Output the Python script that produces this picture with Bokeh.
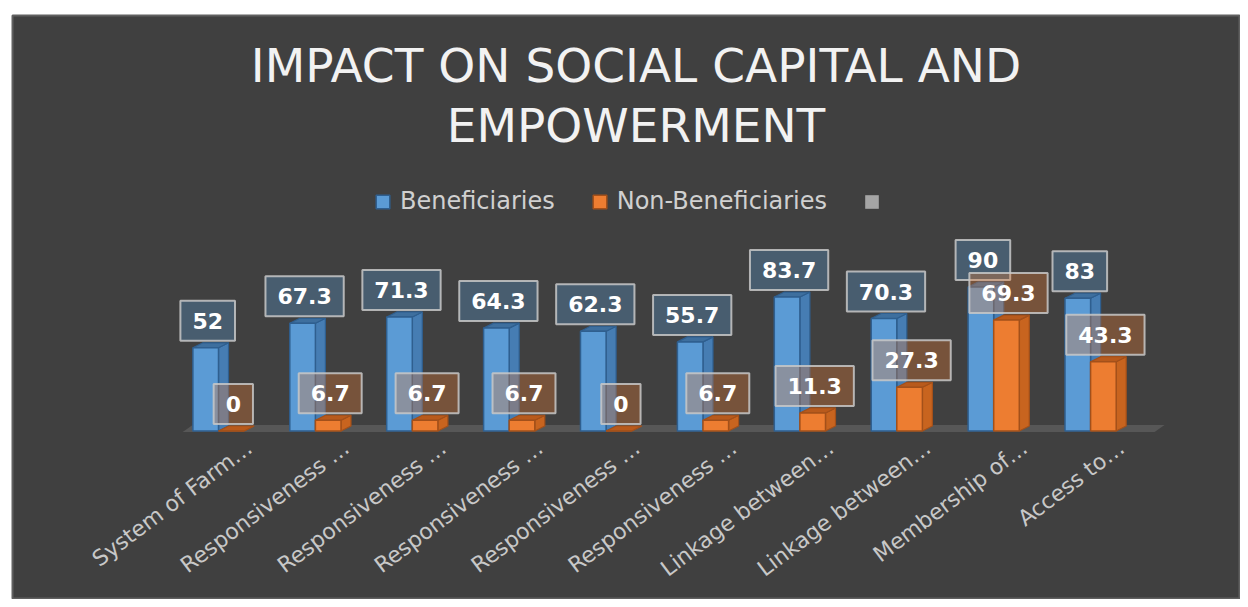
import math
from bokeh.plotting import figure
from bokeh.models import Range1d, Label, Legend, LegendItem
from bokeh.core.properties import value
from bokeh.embed import file_html
from bokeh.resources import INLINE

# ---------------- data ----------------
categories = ["System of Farm…", "Responsiveness …", "Responsiveness …", "Responsiveness …",
              "Responsiveness …", "Responsiveness …", "Linkage between…", "Linkage between…",
              "Membership of…", "Access to…"]
beneficiaries = [52, 67.3, 71.3, 64.3, 62.3, 55.7, 83.7, 70.3, 90, 83]
non_beneficiaries = [0, 6.7, 6.7, 6.7, 0, 6.7, 11.3, 27.3, 69.3, 43.3]
series_names = ["Beneficiaries", "Non-Beneficiaries", " "]
title_lines = ["IMPACT ON SOCIAL CAPITAL AND", "EMPOWERMENT"]

# ---------------- layout constants ----------------
ML, MT = 12, 15         # white space left / top of the panel
FW, FH = 1228, 584      # frame (dark panel) size
W, H = FW + ML, FH + MT
PX_X = 96.9      # pixels per category step
PX_Y = 1.6       # pixels per value unit
X0 = 206         # pixel position of first category inside panel
Y0 = 168.5       # pixels from panel bottom to base line
BW = 25.6 / PX_X # bar front width (data units)
DX = 10 / PX_X   # 3D depth offset x
DY = 5 / PX_Y    # 3D depth offset y

FONT = "DejaVu Sans"
BG = "#404040"

p = figure(width=W, height=H, output_backend="svg", toolbar_location=None,
           x_range=Range1d(-X0 / PX_X, (FW - X0) / PX_X),
           y_range=Range1d(-Y0 / PX_Y, (FH - Y0) / PX_Y),
           x_axis_location=None, y_axis_location=None,
           min_border_left=ML, min_border_top=MT,
           min_border_right=0, min_border_bottom=0,
           background_fill_color=BG, border_fill_color="white")
p.grid.visible = False
p.outline_line_color = "#606060"
p.outline_line_width = 2

n = len(categories)

# floor
fx0 = -0.37
fx1 = (n - 1) + 0.66
p.patch([fx0, fx1, fx1 + DX, fx0 + DX], [-0.6, -0.6, DY + 0.6, DY + 0.6],
        fill_color="#575757", line_color=None)


def bar_polys(x_left, vals):
    fronts_x, fronts_y, sides_x, sides_y, tops_x, tops_y = [], [], [], [], [], []
    for xl, v in zip(x_left, vals):
        xr = xl + BW
        fronts_x.append([xl, xr, xr, xl]); fronts_y.append([0, 0, v, v])
        sides_x.append([xr, xr + DX, xr + DX, xr]); sides_y.append([0, DY, v + DY, v])
        tops_x.append([xl, xr, xr + DX, xl + DX]); tops_y.append([v, v, v + DY, v + DY])
    return fronts_x, fronts_y, sides_x, sides_y, tops_x, tops_y


idx = list(range(n))
blue_left = [i - BW for i in idx]
orange_left = [i for i in idx]

renderers = []
for lefts, vals, front_c, side_c, top_c, edge_c in [
    (blue_left, beneficiaries, "#5B9BD5", "#467DB3", "#3E6F9E", "#2F5F8F"),
    (orange_left, non_beneficiaries, "#ED7D31", "#C8641F", "#B85A1C", "#A3501A"),
]:
    fx, fy, sx, sy, tx, ty = bar_polys(lefts, vals)
    p.patches(sx, sy, fill_color=side_c, line_color=edge_c, line_width=1.2)
    p.patches(tx, ty, fill_color=top_c, line_color=edge_c, line_width=1.2)
    r = p.patches(fx, fy, fill_color=front_c, line_color=edge_c, line_width=1.5)
    renderers.append(r)

# third (unnamed) legend entry: a zero-area patch so the legend shows its swatch
dummy = p.patches([[0, 0, 0]], [[0, 0, 0]], fill_color="#A5A5A5", line_color="#8C8C8C",
                  line_alpha=0)
renderers.append(dummy)

# data labels
for lefts, vals, fill in [(blue_left, beneficiaries, "#5B9BD5"),
                          (orange_left, non_beneficiaries, "#ED7D31")]:
    p.text(x=[l + BW / 2 + 2 / PX_X for l in lefts], y=vals,
           text=[f"{v:g}" for v in vals],
           text_align="center", text_baseline="bottom", y_offset=-7,
           text_font=value(FONT), text_font_style="bold", text_font_size="22px",
           text_color="white", padding=12,
           background_fill_color=fill, background_fill_alpha=0.32,
           border_line_color="#C8C8C8", border_line_alpha=0.85, border_line_width=2)

# category labels
p.text(x=idx, y=[0] * n, text=categories, x_offset=31, y_offset=14,
       angle=math.radians(37), text_align="right", text_baseline="middle",
       text_font=value(FONT), text_font_size="22px", text_color="#C8C8C8")

# title
p.add_layout(Label(x=623.5, y=FH - 50, x_units="screen", y_units="screen",
                   text=title_lines[0], text_align="center", text_baseline="alphabetic",
                   text_font=FONT, text_font_size="47px", text_color="#F2F2F2"))
p.add_layout(Label(x=623.5, y=FH - 110, x_units="screen", y_units="screen",
                   text=title_lines[1], text_align="center", text_baseline="alphabetic",
                   text_font=FONT, text_font_size="47px", text_color="#F2F2F2"))

# legend
legend = Legend(items=[LegendItem(label=series_names[k], renderers=[renderers[k]]) for k in range(3)],
                orientation="horizontal", location=(362, 384),
                glyph_width=17, glyph_height=17, label_standoff=9, spacing=36,
                padding=0, margin=0, border_line_alpha=0, background_fill_alpha=0,
                label_text_font=FONT, label_text_font_size="24px", label_text_color="#D0D0D0")
p.add_layout(legend, "center")

open("out.html", "w").write(file_html(p, INLINE))
